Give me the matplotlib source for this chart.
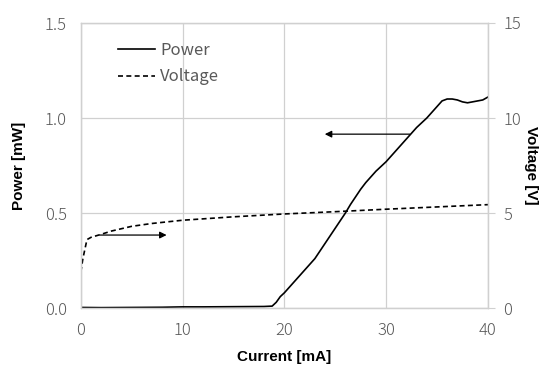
import matplotlib
matplotlib.use("Agg")
import matplotlib.pyplot as plt

power_current = [0, 2, 5, 8, 10, 12, 15, 18, 18.8, 19.2, 19.6, 20.0, 20.5, 21.0, 21.5,
                 22.0, 23.0, 23.5, 24.0, 25.0, 26.0, 26.5, 27.0, 27.5, 28.0, 29.0, 30.0, 31.0,
                 32.0, 33.0, 34.0, 34.5, 35.0, 35.5, 36.0, 36.5, 37.0, 37.5, 38.0, 38.5,
                 39.0, 39.5, 40.0]
power_mw = [0.003, 0.002, 0.003, 0.004, 0.006, 0.006, 0.007, 0.008, 0.01, 0.03, 0.06, 0.08,
            0.11, 0.14, 0.17, 0.20, 0.26, 0.30, 0.34, 0.42, 0.50, 0.545, 0.585, 0.625, 0.66,
            0.72, 0.77, 0.83, 0.89, 0.95, 1.00, 1.03, 1.06, 1.09, 1.10, 1.10, 1.095, 1.085,
            1.08, 1.085, 1.09, 1.095, 1.11]

voltage_current = [0, 0.2, 0.6, 1.0, 2.0, 3.0, 5.0, 7.0, 10.0, 15.0, 20.0, 25.0, 30.0, 35.0, 40.0]
voltage_v = [1.9, 2.6, 3.6, 3.72, 3.88, 4.05, 4.3, 4.45, 4.62, 4.8, 4.95, 5.07, 5.2, 5.32, 5.44]

x_ticks = [0, 10, 20, 30, 40]
power_ticks = [0.0, 0.5, 1.0, 1.5]
voltage_ticks = [0, 5, 10, 15]

tick_font = ["Noto Sans CJK JP", "DejaVu Sans"]
label_font = "Liberation Sans"
grey = "#595959"
grid_col = "#d0d0d0"

fig = plt.figure(figsize=(5.5, 3.68), dpi=100)
ax = fig.add_axes([0.147, 0.163, 0.740, 0.7745])
ax2 = ax.twinx()

ax.plot(power_current, power_mw, color="black", lw=1.2, label="Power")
ax2.plot(voltage_current, voltage_v, color="black", lw=1.2, ls=(0, (3, 2)), label="Voltage")

ax.set_xlim(0, 40)
ax.set_ylim(0, 1.5)
ax2.set_ylim(0, 15)
ax.set_xticks(x_ticks)
ax.set_yticks(power_ticks)
ax.set_yticklabels([f"{v:.1f}" for v in power_ticks])
ax2.set_yticks(voltage_ticks)

ax.grid(True, color=grid_col, lw=0.9)
ax.set_axisbelow(True)
for a in (ax, ax2):
    for s in a.spines.values():
        s.set_color(grid_col)
        s.set_linewidth(0.9)

ax.tick_params(axis="y", length=0, pad=10, labelsize=12, labelcolor=grey)
ax.tick_params(axis="x", length=0, pad=10, labelsize=12, labelcolor=grey)
ax2.tick_params(axis="y", length=5, color=grid_col, pad=6, labelsize=12, labelcolor=grey)
for lab in ax.get_xticklabels() + ax.get_yticklabels() + ax2.get_yticklabels():
    lab.set_fontfamily(tick_font)
    lab.set_fontweight("light")

ax.set_xlabel("Current [mA]", fontfamily=label_font, fontweight="bold", fontsize=11, labelpad=8)
ax.set_ylabel("Power [mW]", fontfamily=label_font, fontweight="bold", fontsize=11, labelpad=14)
ax2.set_ylabel("Voltage [V]", fontfamily=label_font, fontweight="bold", fontsize=11,
               rotation=270, labelpad=12)

# arrows pointing to the matching axis
ax.annotate("", xy=(23.7, 0.915), xytext=(32.6, 0.915),
            arrowprops=dict(arrowstyle="-|>", color="black", lw=0.9, mutation_scale=10))
ax.annotate("", xy=(8.7, 0.384), xytext=(1.6, 0.384),
            arrowprops=dict(arrowstyle="-|>", color="black", lw=0.9, mutation_scale=10))

h1, l1 = ax.get_legend_handles_labels()
h2, l2 = ax2.get_legend_handles_labels()
leg = ax.legend(h1 + h2, l1 + l2, loc="upper left", bbox_to_anchor=(0.055, 0.985),
                frameon=False, handlelength=2.2, handletextpad=0.3, labelspacing=0.55,
                prop={"family": tick_font, "size": 12})
for t in leg.get_texts():
    t.set_color(grey)

fig.savefig("out.png", dpi=100)
